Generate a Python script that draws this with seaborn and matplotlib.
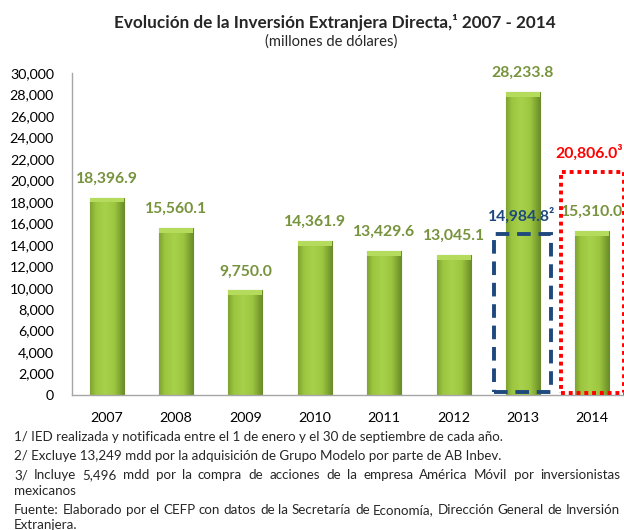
import numpy as np
import matplotlib
matplotlib.use("Agg")
import matplotlib.pyplot as plt
import matplotlib.patches as mpatches
import seaborn as sns
import pandas as pd

# Datos
years = ["2007", "2008", "2009", "2010", "2011", "2012", "2013", "2014"]
ied = [18396.9, 15560.1, 9750.0, 14361.9, 13429.6, 13045.1, 28233.8, 15310.0]
ied_2013_sin_modelo = 14984.8
ied_2014_con_amx = 20806.0
y_ticks = list(range(0, 30001, 2000))

# (texto, justificado)
notas = [
    ("1/ IED realizada y notificada entre el 1 de enero y el 30 de septiembre de cada año.", False),
    ("2/ Excluye 13,249 mdd por la adquisición de Grupo Modelo por parte de AB Inbev.", False),
    ("3/ Incluye 5,496 mdd por la compra de acciones de la empresa América Móvil por inversionistas", True),
    ("mexicanos", False),
    ("Fuente: Elaborado por el CEFP con datos de la Secretaría de Economía, Dirección General de Inversión", True),
    ("Extranjera.", False),
]

sns.set_style("white")
plt.rcParams['font.family'] = ['Lato', 'DejaVu Sans']

verde_txt = "#77933C"
azul = "#1F497D"
rojo = "#FF0000"

df = pd.DataFrame({"anio": years, "ied": ied})

fig = plt.figure(figsize=(6.24, 5.30), dpi=100)
ax = fig.add_axes([72 / 624, 135 / 530, 555 / 624, 322 / 530])

sns.barplot(data=df, x="anio", y="ied", ax=ax, color="#8DB83A",
            width=0.49, edgecolor="#6B8A2A", linewidth=0.8, saturation=1)

# degradado horizontal en cada barra (efecto 3D)
grad = np.linspace(0, 1, 64)
grad = 1 - np.abs(grad - 0.45) * 1.6
grad = np.clip(grad, 0, 1)[None, :]
cmap = matplotlib.colors.LinearSegmentedColormap.from_list(
    "g", ["#6E8F2A", "#9CC63F", "#A8D14B"])
for p in ax.patches:
    x0, w, h = p.get_x(), p.get_width(), p.get_height()
    im = ax.imshow(grad, cmap=cmap, aspect="auto", extent=[x0, x0 + w, 0, h],
                   zorder=p.get_zorder() + 0.1, interpolation="bicubic")
    im.set_clip_path(p)
    # tapa superior
    ax.add_patch(mpatches.Rectangle((x0, h - 450), w, 450, facecolor="#B5DB5C",
                                    edgecolor="none", zorder=p.get_zorder() + 0.2))

ax.set_xlim(-0.5, 7.5)
ax.set_ylim(0, 30000)
ax.set_yticks(y_ticks)
ax.set_yticklabels([f"{v:,}" for v in y_ticks])
ax.set_xlabel("")
ax.set_ylabel("")
ax.tick_params(axis="both", length=0, labelsize=10.3, colors="#000000")
ax.tick_params(axis="y", pad=13)
ax.tick_params(axis="x", pad=12)
for s in ["top", "right"]:
    ax.spines[s].set_visible(False)
for s in ["left", "bottom"]:
    ax.spines[s].set_color("#A6A6A6")
    ax.spines[s].set_linewidth(1.0)

# etiquetas de valor
for i, v in enumerate(ied):
    ax.text(i, v + 1100, f"{v:,.1f}", ha="center", va="bottom", color=verde_txt,
            fontsize=11.3, fontweight="bold", zorder=5)

# recuadros 2013 y 2014
ax.add_patch(mpatches.Rectangle((6 - 0.41, 300), 0.82, ied_2013_sin_modelo - 300,
                                fill=False, edgecolor=azul, linewidth=2.8,
                                linestyle=(0, (3.5, 2)), zorder=6, clip_on=False))
ax.add_patch(mpatches.Rectangle((7 - 0.455, 150), 0.91, ied_2014_con_amx - 150,
                                fill=False, edgecolor=rojo, linewidth=2.8,
                                linestyle=(0, (1, 1)), zorder=6, clip_on=False))
ax.text(6 - 0.02, ied_2013_sin_modelo + 1000, f"{ied_2013_sin_modelo:,.1f}²",
        ha="center", va="bottom", color=azul, fontsize=11.3, fontweight="bold", zorder=7)
ax.text(6.95, ied_2014_con_amx + 1000, f"{ied_2014_con_amx:,.1f}³",
        ha="center", va="bottom", color=rojo, fontsize=11.3, fontweight="bold", zorder=7,
        clip_on=False)

fig.text(0.537, 0.957, "Evolución de la Inversión Extranjera Directa,¹ 2007 - 2014",
         ha="center", va="center", fontsize=12.3, fontweight="bold")
fig.text(0.53, 0.921, "(millones de dólares)", ha="center", va="center", fontsize=10.6)

# notas al pie
renderer = fig.canvas.get_renderer()
x_left, x_right = 14 / 624, 620 / 624
fs_nota = 9.6
ys = [437, 456, 475, 491, 510, 525]
for (t, just), y in zip(notas, ys):
    yf = 1 - y / 530
    if not just:
        fig.text(x_left, yf, t, ha="left", va="center", fontsize=fs_nota)
        continue
    palabras = t.split(" ")
    arts = [fig.text(0, yf, w, ha="left", va="center", fontsize=fs_nota) for w in palabras]
    anchos = [a.get_window_extent(renderer).width / fig.bbox.width for a in arts]
    hueco = (x_right - x_left - sum(anchos)) / (len(palabras) - 1)
    x = x_left
    for a, w in zip(arts, anchos):
        a.set_x(x)
        x += w + hueco

fig.savefig("out.png", dpi=100)
